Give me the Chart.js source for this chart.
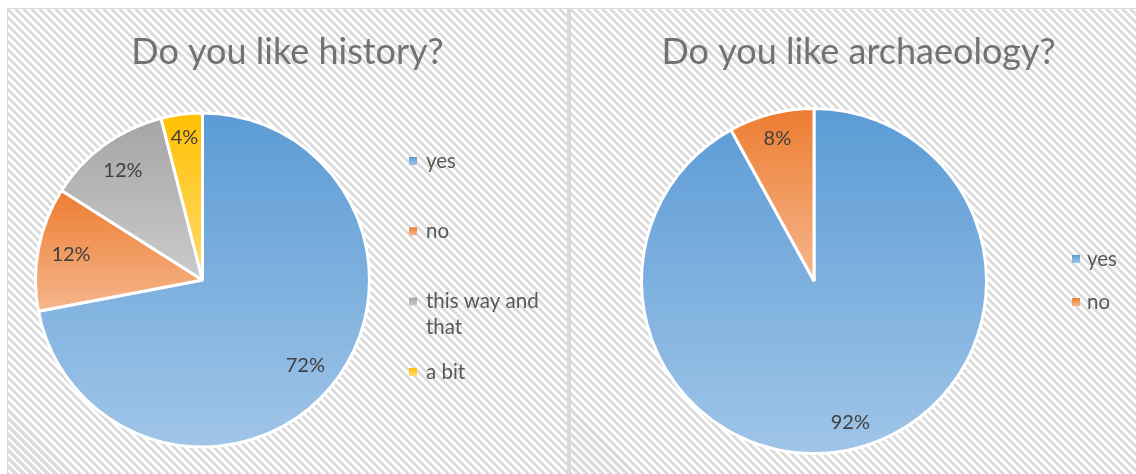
<!DOCTYPE html>
<html>
<head>
<meta charset="utf-8">
<script src="https://cdn.jsdelivr.net/npm/chart.js@4.4.0/dist/chart.umd.min.js"></script>
<style>
  html, body { margin: 0; padding: 0; background: #fff; width: 1136px; height: 474px; overflow: hidden; }
  .panel {
    position: absolute; top: 8px; height: 480px; box-sizing: border-box;
    border-top: 1px solid #d9d9d9;
    background: repeating-linear-gradient(45deg, #ffffff 0px, #ffffff 2.8px, #dcdcdc 2.8px, #dcdcdc 5.66px);
  }
  #p1 { left: 7px; width: 562px; border-left: 1px solid #d9d9d9; border-right: 2px solid #d9d9d9; }
  #p2 { left: 569px; width: 600px; border-left: 2px solid #d9d9d9; }
  canvas { position: absolute; top: 0; left: 0; }
</style>
</head>
<body>
<div class="panel" id="p1"><canvas id="history" width="559" height="465"></canvas></div>
<div class="panel" id="p2"><canvas id="archaeology" width="575" height="465"></canvas></div>

<script>
// data
const historyLabels = ['yes', 'no', 'this way and that', 'a bit'];
const historyValues = [72, 12, 12, 4];
const archLabels = ['yes', 'no'];
const archValues = [92, 8];

// [top of slice, bottom of slice] - gradient like excel
const sliceColors = [
  ['#5b9bd5', '#a0c5e8'],
  ['#ed7d31', '#f5b68c'],
  ['#a5a5a5', '#cbcbcb'],
  ['#ffc000', '#ffdb70']
];

const BORDER = 3;
const FONT = 'Lato, Carlito, "Open Sans", sans-serif';

// gradient per slice, from its own top to its own bottom
function sliceFill(ctx) {
  const chart = ctx.chart;
  const i = ctx.dataIndex;
  const area = chart.chartArea;
  if (!area || ctx.type !== 'data') return sliceColors[i][0];
  const values = chart.data.datasets[0].data;
  const total = values.reduce((a, b) => a + b, 0);
  const cx = (area.left + area.right) / 2, cy = (area.top + area.bottom) / 2;
  const r = (Math.min(area.width, area.height) - BORDER) / 2;
  let start = -Math.PI / 2;
  for (let k = 0; k < i; k++) start += 2 * Math.PI * values[k] / total;
  const end = start + 2 * Math.PI * values[i] / total;
  let top = Math.min(cy, cy + r * Math.sin(start), cy + r * Math.sin(end));
  let bottom = Math.max(cy, cy + r * Math.sin(start), cy + r * Math.sin(end));
  if (start <= -Math.PI / 2 + 1e-6 || end >= 1.5 * Math.PI - 1e-6) top = cy - r;
  if (start < Math.PI / 2 && end > Math.PI / 2) bottom = cy + r;
  const g = chart.ctx.createLinearGradient(0, top, 0, bottom);
  g.addColorStop(0, sliceColors[i][0]);
  g.addColorStop(1, sliceColors[i][1]);
  return g;
}

// percent labels inside the slices, near the rim
const pctLabels = {
  id: 'pctLabels',
  afterDatasetsDraw(chart) {
    const ctx = chart.ctx;
    const meta = chart.getDatasetMeta(0);
    const values = chart.data.datasets[0].data;
    const total = values.reduce((a, b) => a + b, 0);
    ctx.save();
    ctx.font = '20px ' + FONT;
    ctx.fillStyle = '#404040';
    ctx.textAlign = 'center';
    ctx.textBaseline = 'middle';
    meta.data.forEach((arc, i) => {
      const p = arc.getProps(['x', 'y', 'startAngle', 'endAngle', 'outerRadius'], true);
      const mid = (p.startAngle + p.endAngle) / 2;
      const text = Math.round(values[i] / total * 100) + '%';
      const w = ctx.measureText(text).width, h = 20;
      const dx = Math.cos(mid), dy = Math.sin(mid);
      const dist = p.outerRadius - 12 - (Math.abs(dx) * w / 2 + Math.abs(dy) * h / 2);
      ctx.fillText(text, p.x + dx * dist, p.y + dy * dist);
    });
    ctx.restore();
  }
};

// legend drawn in its own layout box on the right, so the title stays centred on the whole panel
function drawLegend(chart, box, opts) {
  const ctx = chart.ctx;
  const labels = chart.data.labels;
  ctx.save();
  ctx.font = '20.5px ' + FONT;
  ctx.textBaseline = 'middle';
  ctx.textAlign = 'left';
  labels.forEach((label, i) => {
    const y = opts.top + i * opts.step;
    const mx = box.left + opts.markerX;
    const g = ctx.createLinearGradient(0, y - 4, 0, y + 4);
    g.addColorStop(0, sliceColors[i][0]);
    g.addColorStop(1, sliceColors[i][1]);
    ctx.fillStyle = g;
    ctx.fillRect(mx, y - 4, 8, 8);
    // word wrap
    const words = label.split(' ');
    const lines = [];
    let line = '';
    words.forEach(wd => {
      const test = line ? line + ' ' + wd : wd;
      if (line && ctx.measureText(test).width > opts.textWidth) { lines.push(line); line = wd; }
      else line = test;
    });
    lines.push(line);
    ctx.fillStyle = '#595959';
    lines.forEach((l, j) => ctx.fillText(l, box.left + opts.textX, y + j * opts.lineHeight));
  });
  ctx.restore();
}

const sideLegend = {
  id: 'sideLegend',
  start(chart, args, opts) {
    const box = {
      position: 'right', fullSize: false, weight: 1000, options: {},
      left: 0, top: 0, right: 0, bottom: 0, width: 0, height: 0,
      isHorizontal() { return false; },
      update(maxW, maxH) { this.width = opts.width; this.height = maxH; },
      draw() { drawLegend(chart, this, opts); }
    };
    Chart.layouts.addBox(chart, box);
  }
};

function makePie(id, title, labels, values, cfg) {
  return new Chart(document.getElementById(id), {
    type: 'pie',
    data: {
      labels: labels,
      datasets: [{
        data: values,
        backgroundColor: sliceFill,
        borderColor: '#ffffff',
        borderWidth: BORDER,
        hoverOffset: 0
      }]
    },
    options: {
      responsive: false,
      animation: false,
      events: [],
      layout: { padding: { left: 0, right: 0, top: 0, bottom: cfg.bottom } },
      plugins: {
        legend: { display: false },
        tooltip: { enabled: false },
        title: {
          display: true,
          text: title,
          color: '#727272',
          font: { family: FONT, size: 36, weight: 400, lineHeight: 1.2 },
          padding: { top: 21.4, bottom: cfg.titleBottom }
        },
        sideLegend: cfg.legend
      }
    },
    plugins: [pctLabels, sideLegend]
  });
}

function drawAll() {
  makePie('history', 'Do you like history?', historyLabels, historyValues, {
    bottom: 25.5, titleBottom: 37.9,
    legend: { width: 170, top: 152, step: 70.3, markerX: 12, textX: 29, textWidth: 125, lineHeight: 26 }
  });
  makePie('archaeology', 'Do you like archaeology?', archLabels, archValues, {
    bottom: 19, titleBottom: 33.4,
    legend: { width: 89, top: 250, step: 43, markerX: 15, textX: 30, textWidth: 80, lineHeight: 26 }
  });
}

if (document.fonts && document.fonts.load) {
  Promise.all([
    document.fonts.load('36px Lato'),
    document.fonts.load('20px Lato')
  ]).then(drawAll, drawAll);
} else {
  drawAll();
}
</script>
</body>
</html>
